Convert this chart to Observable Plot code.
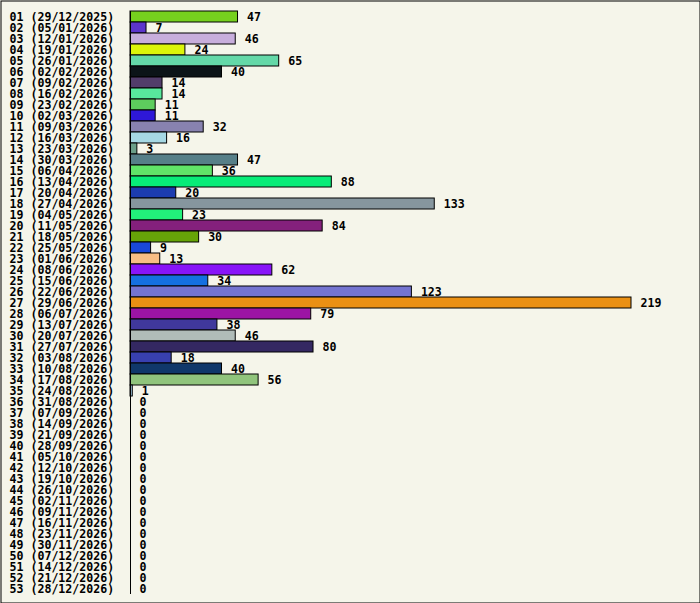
<!DOCTYPE html>
<html><head><meta charset="utf-8">
<script src="https://cdn.jsdelivr.net/npm/d3@7"></script>
<script src="https://cdn.jsdelivr.net/npm/@observablehq/plot@0.6"></script>
<style>
html,body{margin:0;padding:0;background:#f5f5ea;}
#chart svg{display:block;}
</style>
</head><body><div id="chart"></div>
<script>
const weeks = ["01","02","03","04","05","06","07","08","09","10","11","12","13","14","15","16","17","18","19","20","21","22","23","24","25","26","27","28","29","30","31","32","33","34","35","36","37","38","39","40","41","42","43","44","45","46","47","48","49","50","51","52","53"];
const dates = ["29/12/2025","05/01/2026","12/01/2026","19/01/2026","26/01/2026","02/02/2026","09/02/2026","16/02/2026","23/02/2026","02/03/2026","09/03/2026","16/03/2026","23/03/2026","30/03/2026","06/04/2026","13/04/2026","20/04/2026","27/04/2026","04/05/2026","11/05/2026","18/05/2026","25/05/2026","01/06/2026","08/06/2026","15/06/2026","22/06/2026","29/06/2026","06/07/2026","13/07/2026","20/07/2026","27/07/2026","03/08/2026","10/08/2026","17/08/2026","24/08/2026","31/08/2026","07/09/2026","14/09/2026","21/09/2026","28/09/2026","05/10/2026","12/10/2026","19/10/2026","26/10/2026","02/11/2026","09/11/2026","16/11/2026","23/11/2026","30/11/2026","07/12/2026","14/12/2026","21/12/2026","28/12/2026"];
const values = [47,7,46,24,65,40,14,14,11,11,32,16,3,47,36,88,20,133,23,84,30,9,13,62,34,123,219,79,38,46,80,18,40,56,1,0,0,0,0,0,0,0,0,0,0,0,0,0,0,0,0,0,0];
const colors = ["#76d01e","#5c35cc","#c8aedc","#dcf50a","#64d8a8","#0c1418","#523d6a","#58e89c","#5dcd5d","#2e18d8","#8882b0","#a6d8e4","#6a9e88","#567f88","#60e468","#08ec78","#1c3cb0","#86969e","#22f07a","#84207c","#66a408","#1a48d8","#f8be84","#8814f8","#1470e0","#7474d0","#ea9014","#9c14a4","#40389c","#b0bcb8","#342862","#3840b0","#10386a","#90c47c","#a0c8e0","#cccccc","#cccccc","#cccccc","#cccccc","#cccccc","#cccccc","#cccccc","#cccccc","#cccccc","#cccccc","#cccccc","#cccccc","#cccccc","#cccccc","#cccccc","#cccccc","#cccccc","#cccccc"];

const data = weeks.map((w,i)=>({label:`${w} (${dates[i]})`, value:values[i], color:colors[i]}));
const labels = data.map(d=>d.label);
const font = "'DejaVu Sans Mono', monospace";

const chart = Plot.plot({
  width: 700,
  height: 603,
  marginTop: 11,
  marginBottom: 9,
  marginLeft: 130,
  marginRight: 69,
  style: {background:"#f5f5ea", fontFamily: font, fontSize:"11.6px", fontWeight:"bold", color:"#000"},
  x: {domain:[0,219], axis:null},
  y: {domain: labels, padding:0, axis:null},
  marks: [
    Plot.frame({stroke:"#000", strokeWidth:1, insetTop:-10.5, insetLeft:-129.5, insetRight:-68.5, insetBottom:-8.5}),
    Plot.barX(data.filter(d=>d.value>0), {x:"value", y:"label", fill:"color", stroke:"#000", strokeWidth:1}),
    Plot.ruleX([0], {stroke:"#000", strokeWidth:1}),
    Plot.text(data, {x:"value", y:"label", text:d=>String(d.value), textAnchor:"start", dx:9, fill:"#000", fontFamily:font, fontSize:11.6, fontWeight:"bold"}),
    Plot.text(data, {x:0, y:"label", text:"label", textAnchor:"start", dx:-121, fill:"#000", fontFamily:font, fontSize:11.6, fontWeight:"bold"})
  ]
});
document.getElementById("chart").appendChild(chart);
</script>
</body></html>
